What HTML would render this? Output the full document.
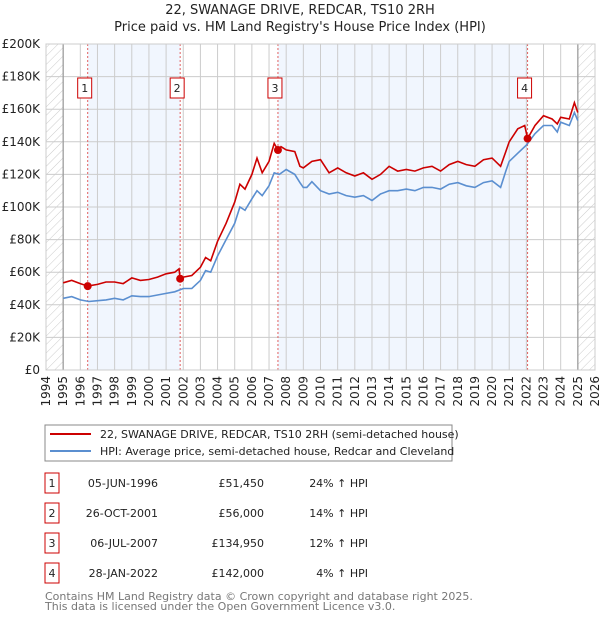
<!DOCTYPE html>
<html><head><meta charset="utf-8"><style>
body{margin:0;background:#fff;font-family:"DejaVu Sans","Liberation Sans",sans-serif;}
svg text{font-family:"DejaVu Sans","Liberation Sans",sans-serif;}
</style></head><body>
<svg id="chart" width="600" height="620" xmlns="http://www.w3.org/2000/svg">
<defs><pattern id="hatch" width="6" height="6" patternUnits="userSpaceOnUse" patternTransform="rotate(45)"><line x1="0" y1="0" x2="0" y2="6" stroke="#ccc" stroke-width="1"/></pattern></defs>
<text x="300" y="14" text-anchor="middle" font-size="13" fill="#222">22, SWANAGE DRIVE, REDCAR, TS10 2RH</text>
<text x="300" y="31" text-anchor="middle" font-size="13" fill="#222">Price paid vs. HM Land Registry's House Price Index (HPI)</text>
<g id="plot"></g>
<g>
<rect x="45" y="425" width="407" height="36" fill="#fff" stroke="#888"/>
<line x1="50" y1="434" x2="91" y2="434" stroke="#cc0000" stroke-width="2"/>
<text x="100" y="438" font-size="11" fill="#222">22, SWANAGE DRIVE, REDCAR, TS10 2RH (semi-detached house)</text>
<line x1="50" y1="451" x2="91" y2="451" stroke="#5b8fd0" stroke-width="2"/>
<text x="100" y="455" font-size="11" fill="#222">HPI: Average price, semi-detached house, Redcar and Cleveland</text>
</g>
<g id="table"></g>
<text x="45" y="600" font-size="11" fill="#777">Contains HM Land Registry data © Crown copyright and database right 2025.</text>
<text x="45" y="610" font-size="11" fill="#777">This data is licensed under the Open Government Licence v3.0.</text>
</svg>
<script>
const hpiYears=[1995,1995.5,1996,1996.5,1997,1997.5,1998,1998.5,1999,1999.5,2000,2000.5,2001,2001.5,2002,2002.5,2003,2003.3,2003.6,2004,2004.5,2005,2005.3,2005.6,2006,2006.3,2006.6,2007,2007.3,2007.6,2008,2008.5,2008.8,2009,2009.2,2009.5,2010,2010.5,2011,2011.5,2012,2012.5,2013,2013.5,2014,2014.5,2015,2015.5,2016,2016.5,2017,2017.5,2018,2018.5,2019,2019.5,2020,2020.5,2020.8,2021,2021.5,2022,2022.5,2023,2023.5,2023.8,2024,2024.5,2024.8,2025];
const hpiValues=[44,45,43,42,42.5,43,44,43,45.5,45,45,46,47,48,50,50,55,61,60,70,80,90,100,98,105,110,107,113,121,120,123,120,115,112,112,115.5,110,108,109,107,106,107,104,108,110,110,111,110,112,112,111,114,115,113,112,115,116,112,122,128,133,138,145,150,150,146,152,150,158,153];
const propYears=[1995,1995.5,1996,1996.43,1997,1997.5,1998,1998.5,1999,1999.5,2000,2000.5,2001,2001.5,2001.75,2001.82,2002,2002.5,2003,2003.3,2003.6,2004,2004.5,2005,2005.3,2005.6,2006,2006.3,2006.6,2007,2007.3,2007.52,2007.7,2008,2008.5,2008.8,2009,2009.5,2010,2010.5,2011,2011.5,2012,2012.5,2013,2013.5,2014,2014.5,2015,2015.5,2016,2016.5,2017,2017.5,2018,2018.5,2019,2019.5,2020,2020.5,2020.8,2021,2021.5,2021.9,2022.07,2022.5,2023,2023.5,2023.8,2024,2024.5,2024.8,2025];
const propValues=[53.5,55,53,51.45,52.5,54,54,53,56.5,55,55.5,57,59,60,62,56,57,58,63,69,67,79,90,103,114,111,120,130,121,128,139,134.95,137,135,134,125,124,128,129,121,124,121,119,121,117,120,125,122,123,122,124,125,122,126,128,126,125,129,130,125,134,140,148,150,142,150,156,154,151,155,154,164,158];
const saleYears=[1996.43,2001.82,2007.52,2022.07];
const salePrices=[51.45,56,134.95,142];
const saleLabels=["1","2","3","4"];
const saleDates=["05-JUN-1996","26-OCT-2001","06-JUL-2007","28-JAN-2022"];
const salePriceText=["£51,450","£56,000","£134,950","£142,000"];
const salePct=["24% ↑ HPI","14% ↑ HPI","12% ↑ HPI","4% ↑ HPI"];
const yTicks=[0,20,40,60,80,100,120,140,160,180,200];
const yTickLabels=["£0","£20K","£40K","£60K","£80K","£100K","£120K","£140K","£160K","£180K","£200K"];
const xTicks=[];for(let y=1994;y<=2026;y++)xTicks.push(y);

const L=46,R=595,T=44,B=370;
const xs=v=>L+(v-1994)*(R-L)/32;
const ys=v=>B-v*(B-T)/200;
const NS="http://www.w3.org/2000/svg";
const plot=document.getElementById('plot');
function mk(tag,attrs,parent){const e=document.createElementNS(NS,tag);for(const k in attrs)e.setAttribute(k,attrs[k]);(parent||plot).appendChild(e);return e;}

let e;
e=mk('rect',{x:L,y:T,width:R-L,height:B-T,fill:'#fff'});


// shaded bands
[[0,1],[2,3]].forEach(p=>{
 e=mk('rect',{x:xs(saleYears[p[0]]),y:T,width:xs(saleYears[p[1]])-xs(saleYears[p[0]]),height:B-T,fill:'#f0f5fe',opacity:0.9});
 
 
});
// hatch
e=mk('rect',{x:L,y:T,width:xs(1995)-L,height:B-T,fill:'url(#hatch)'});


e=mk('rect',{x:xs(2025),y:T,width:R-xs(2025),height:B-T,fill:'url(#hatch)'});


// grid
xTicks.forEach((t,i)=>{
 e=mk('line',{x1:xs(t),x2:xs(t),y1:T,y2:B,stroke:'#ccc','stroke-width':1});
 
 
 const x=xs(t);
 e=mk('text',{x:x+4,y:B+6,'font-size':12,fill:'#222','text-anchor':'end',transform:`rotate(-90 ${x+4} ${B+6})`});
 e.textContent=t;
 
 
});
yTicks.forEach((t,i)=>{
 e=mk('line',{x1:L,x2:R,y1:ys(t),y2:ys(t),stroke:'#ccc','stroke-width':1});
 
 
 e=mk('text',{x:L-6,y:ys(t)+4,'font-size':12,fill:'#222','text-anchor':'end'});
 e.textContent=yTickLabels[i];
 
 
});
e=mk('line',{x1:xs(1995),x2:xs(1995),y1:T,y2:B,stroke:'#999','stroke-width':1.2});


e=mk('line',{x1:xs(2025),x2:xs(2025),y1:T,y2:B,stroke:'#999','stroke-width':1.2});


// sale vlines
saleYears.forEach((s,i)=>{
 e=mk('line',{x1:xs(s),x2:xs(s),y1:T,y2:B,stroke:'#e06060','stroke-width':1,'stroke-dasharray':'2,2'});
 
 
});
// series
function path(xsA,vs){return xsA.map((x,i)=>(i?'L':'M')+xs(x).toFixed(1)+','+ys(vs[i]).toFixed(1)).join('');}
e=mk('path',{d:path(hpiYears,hpiValues),fill:'none',stroke:'#5b8fd0','stroke-width':1.6});


e=mk('path',{d:path(propYears,propValues),fill:'none',stroke:'#cc0000','stroke-width':1.6});


saleYears.forEach((s,i)=>{
 e=mk('circle',{cx:xs(s),cy:ys(salePrices[i]),r:4,fill:'#cc0000'});
 
 
 e=mk('rect',{x:xs(s)-10,y:78,width:14,height:20,fill:'#fff',stroke:'#cc0000'});
 
 
 e=mk('text',{x:xs(s)-3,y:92,'font-size':11,'text-anchor':'middle',fill:'#222'});
 e.textContent=saleLabels[i];
 
 
});
e=mk('rect',{x:L,y:T,width:R-L,height:B-T,fill:'none',stroke:'#ccc'});


// table
const tb=document.getElementById('table');
saleLabels.forEach((l,i)=>{
 const cy=483+i*30;
 e=mk('rect',{x:45,y:cy-10,width:14,height:20,fill:'#fff',stroke:'#cc0000'},tb);
 
 
 e=mk('text',{x:52,y:cy+4,'font-size':11,'text-anchor':'middle',fill:'#222'},tb);e.textContent=l;
 
 
 e=mk('text',{x:158,y:cy+4,'font-size':11,'text-anchor':'end',fill:'#222'},tb);e.textContent=saleDates[i];
 
 
 e=mk('text',{x:264,y:cy+4,'font-size':11,'text-anchor':'end',fill:'#222'},tb);e.textContent=salePriceText[i];
 
 
 e=mk('text',{x:368,y:cy+4,'font-size':11,'text-anchor':'end',fill:'#222'},tb);e.textContent=salePct[i];
 
 
});
</script>
</body></html>
